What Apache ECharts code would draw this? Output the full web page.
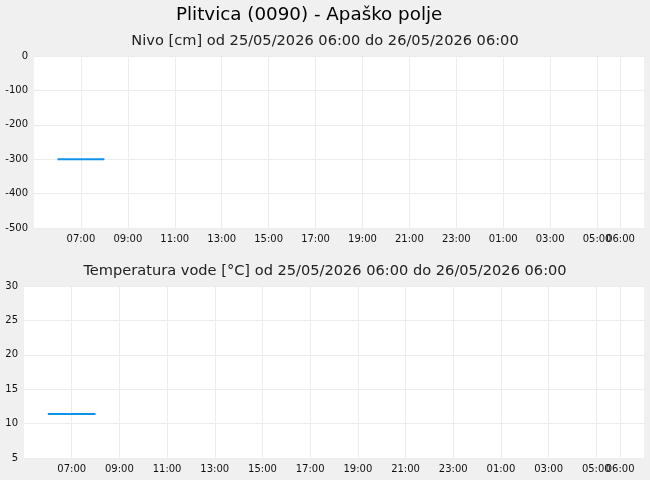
<!DOCTYPE html>
<html>
<head>
<meta charset="utf-8">
<script src="https://cdn.jsdelivr.net/npm/echarts@6/dist/echarts.min.js"></script>
<style>
  html, body { margin: 0; padding: 0; background: #f0f0f0; }
  #chart { width: 650px; height: 480px; }
</style>
</head>
<body>
<div id="chart"></div>
<script>
// podaci
const stationTitle = 'Plitvica (0090) - Apaško polje';
const levelTitle = 'Nivo [cm] od 25/05/2026 06:00 do 26/05/2026 06:00';
const tempTitle = 'Temperatura vode [°C] od 25/05/2026 06:00 do 26/05/2026 06:00';

const levelTimes = ['2026-05-25 06:00', '2026-05-25 08:00'];
const levelValues = [-300, -300];
const tempTimes = ['2026-05-25 06:00', '2026-05-25 08:00'];
const tempValues = [11.4, 11.4];

const axisStart = '2026-05-25 05:00';
const axisEnd = '2026-05-26 07:00';
const tickTimes = [
  '2026-05-25 07:00', '2026-05-25 09:00', '2026-05-25 11:00', '2026-05-25 13:00',
  '2026-05-25 15:00', '2026-05-25 17:00', '2026-05-25 19:00', '2026-05-25 21:00',
  '2026-05-25 23:00', '2026-05-26 01:00', '2026-05-26 03:00', '2026-05-26 05:00'
];
// kraj intervala, ide na zasebnu os (inace ga echarts sakrije)
const endTickTimes = ['2026-05-26 06:00'];

const toMs = s => +new Date(s.replace(' ', 'T'));
const pairs = (t, v) => t.map((x, i) => [toMs(x), v[i]]);

const font = 'DejaVu Sans';
const lineColor = '#0e93e9';
const gridColor = '#ececec';

function xAxis(gridIndex, times) {
  const ticks = times.map(toMs);
  // vremenska os kao value (ms), da custom tickovi rade
  return {
    type: 'value',
    gridIndex: gridIndex,
    position: 'bottom',
    min: toMs(axisStart),
    max: toMs(axisEnd),
    axisLine: { show: false },
    axisTick: { show: false, customValues: ticks },
    splitLine: { show: true, lineStyle: { color: gridColor, width: 1 } },
    axisLabel: {
      customValues: ticks,
      interval: 0,
      color: '#111',
      fontFamily: font,
      fontSize: 10,
      margin: 6,
      hideOverlap: false,
      formatter: v => echarts.time.format(v, '{HH}:{mm}', false)
    }
  };
}

function yAxis(gridIndex, min, max, interval) {
  return {
    type: 'value',
    gridIndex: gridIndex,
    min: min,
    max: max,
    interval: interval,
    axisLine: { show: false },
    axisTick: { show: false },
    splitLine: { show: true, lineStyle: { color: gridColor, width: 1 } },
    axisLabel: { color: '#111', fontFamily: font, fontSize: 10, margin: 6 }
  };
}

const chart = echarts.init(document.getElementById('chart'));
chart.setOption({
  backgroundColor: '#f0f0f0',
  animation: false,
  title: [
    { text: stationTitle, left: 176, top: 6, padding: 0, textStyle: { fontFamily: font, fontSize: 18.3, fontWeight: 'normal', color: '#000' } },
    { text: levelTitle, left: 'center', top: 29, textStyle: { fontFamily: font, fontSize: 14.6, fontWeight: 'normal', color: '#222' } },
    { text: tempTitle, left: 'center', top: 259, textStyle: { fontFamily: font, fontSize: 14.6, fontWeight: 'normal', color: '#222' } }
  ],
  grid: [
    { left: 34, right: 6, top: 56, height: 172, backgroundColor: '#fff', show: true, borderWidth: 0 },
    { left: 24, right: 6, top: 286, height: 172, backgroundColor: '#fff', show: true, borderWidth: 0 }
  ],
  xAxis: [xAxis(0, tickTimes), xAxis(1, tickTimes), xAxis(0, endTickTimes), xAxis(1, endTickTimes)],
  yAxis: [yAxis(0, -500, 0, 100), yAxis(1, 5, 30, 5)],
  series: [
    {
      type: 'line', xAxisIndex: 0, yAxisIndex: 0, showSymbol: false,
      lineStyle: { color: lineColor, width: 2 },
      data: pairs(levelTimes, levelValues)
    },
    {
      type: 'line', xAxisIndex: 1, yAxisIndex: 1, showSymbol: false,
      lineStyle: { color: lineColor, width: 2 },
      data: pairs(tempTimes, tempValues)
    }
  ]
});
</script>
</body>
</html>
